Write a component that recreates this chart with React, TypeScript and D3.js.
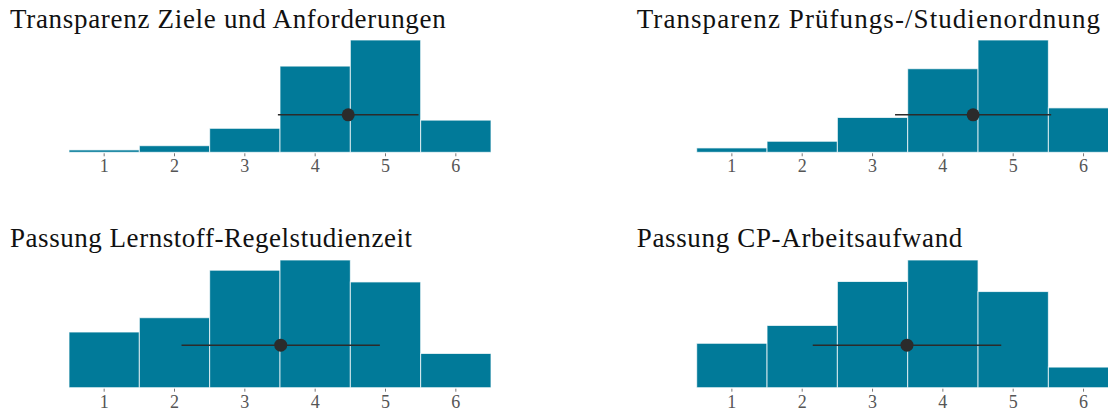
import React from 'react';
import * as d3 from 'd3';

// answer categories (Likert 1..6)
const categories = [1, 2, 3, 4, 5, 6];

const titles = [
  "Transparenz Ziele und Anforderungen",
  "Transparenz Prüfungs-/Studienordnung",
  "Passung Lernstoff-Regelstudienzeit",
  "Passung CP-Arbeitsaufwand",
];
// rendered title widths in the original (Georgia) layout
const titleWidths = [435.7, 463.3, 402, 325.6];

// share of answers (%) per category, one array per panel
const sharesZiele = [0.9, 2.5, 9.1, 32.7, 42.6, 12.2];
const sharesOrdnung = [1.5, 3.8, 12.0, 28.8, 38.7, 15.3];
const sharesLernstoff = [10.9, 13.7, 23.0, 25.0, 20.7, 6.7];
const sharesCP = [9.7, 13.6, 23.2, 27.9, 21.0, 4.5];
const allShares = [sharesZiele, sharesOrdnung, sharesLernstoff, sharesCP];

// mean and standard deviation per panel
const means = [4.47, 4.43, 3.51, 3.49];
const sds = [1.0, 1.11, 1.41, 1.34];

const W = 1108;
const H = 414;
const colX = [69, 696.7];
const plotW = 422;
const rows = [
  { titleY: 28, top: 40, base: 152.3 },
  { titleY: 246.7, top: 260, base: 387.7 },
];

const barColor = "#017a99";
const serif = "'Liberation Serif', Georgia, serif";

function Panel({ idx }: { idx: number }) {
  const col = idx % 2;
  const row = rows[Math.floor(idx / 2)];
  const x0 = colX[col];
  const shares = allShares[idx];

  const x = d3.scaleLinear().domain([0.5, 6.5]).range([x0, x0 + plotW]);
  const y = d3.scaleLinear().domain([0, d3.max(shares) as number]).range([row.base, row.top]);
  const dotY = row.base - (row.base - row.top) / 3;

  return (
    <g>
      <text
        x={col === 0 ? 10 : 636.7}
        y={row.titleY}
        fontFamily={serif}
        fontSize={27}
        fill="#111"
        textLength={titleWidths[idx]}
        lengthAdjust="spacing"
      >
        {titles[idx]}
      </text>
      {categories.map((c, i) => (
        <rect
          key={c}
          x={x(c - 0.5)}
          y={y(shares[i])}
          width={x(c + 0.5) - x(c - 0.5)}
          height={row.base - y(shares[i])}
          fill={barColor}
          stroke="#ffffff"
          strokeOpacity={0.75}
          strokeWidth={1}
        />
      ))}
      {categories.map((c) => (
        <g key={"t" + c}>
          <line x1={x(c)} x2={x(c)} y1={row.base + 1} y2={row.base + 4} stroke="#777" strokeWidth={1} />
          <text x={x(c)} y={row.base + 20} textAnchor="middle" fontFamily={serif} fontSize={18} fill="#555">
            {c}
          </text>
        </g>
      ))}
      <line
        x1={x(means[idx] - sds[idx])}
        x2={x(means[idx] + sds[idx])}
        y1={dotY}
        y2={dotY}
        stroke="#2b2b2b"
        strokeWidth={1.5}
      />
      <circle cx={x(means[idx])} cy={dotY} r={6.5} fill="#2b2b2b" />
    </g>
  );
}

export default function App() {
  return (
    <svg
      width={W}
      height={H}
      viewBox={`0 0 ${W} ${H}`}
      style={{ position: 'absolute', left: 0, top: 0, background: '#fff', display: 'block' }}
    >
      {titles.map((_, i) => (
        <Panel key={i} idx={i} />
      ))}
    </svg>
  );
}
